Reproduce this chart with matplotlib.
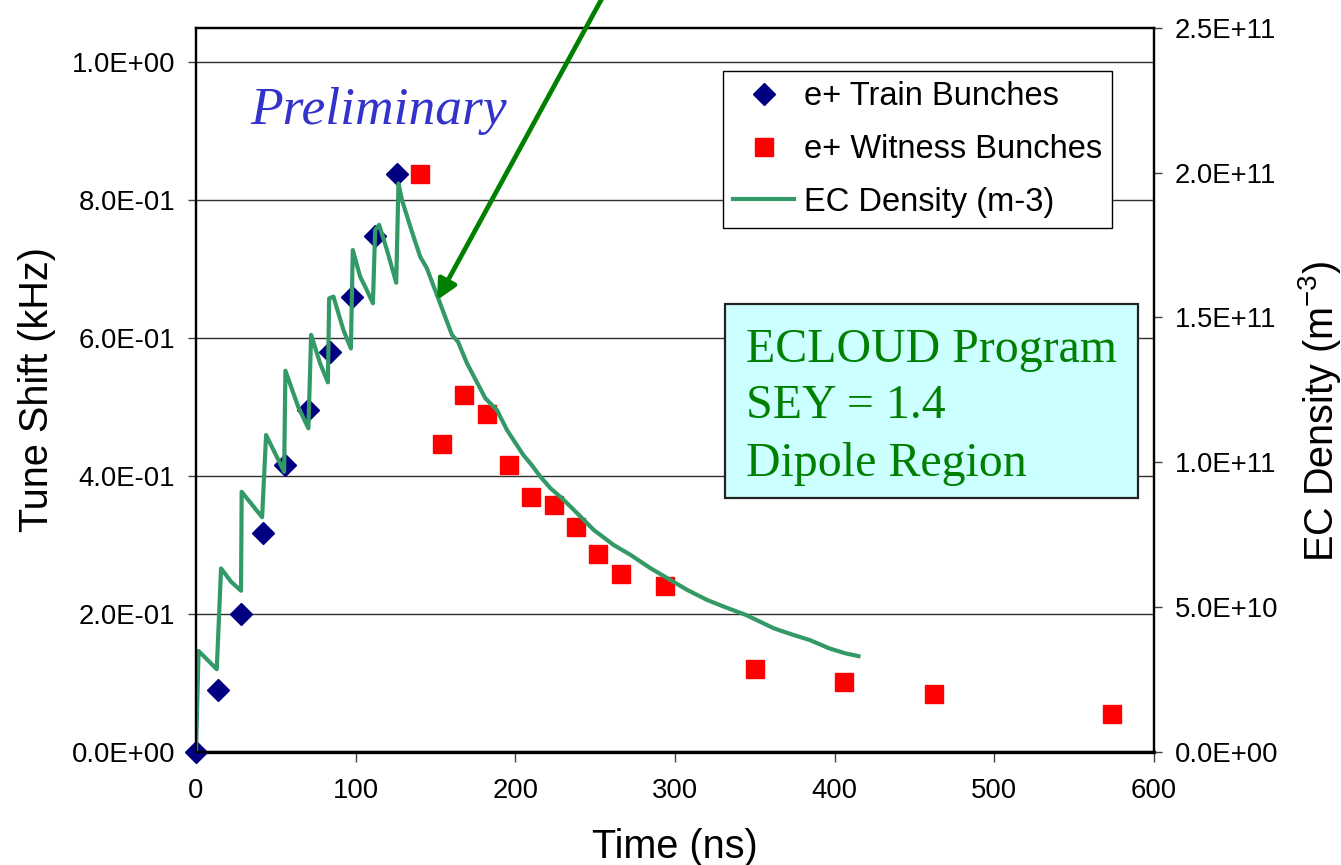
import matplotlib
matplotlib.use("Agg")
import matplotlib.pyplot as plt
from matplotlib.patches import Rectangle
from matplotlib.ticker import FuncFormatter, MultipleLocator

plt.rcParams['font.family'] = ['Liberation Sans', 'DejaVu Sans']

# measured tune shift, train bunches (kHz)
train_t = [0, 14, 28, 42, 56, 70, 84, 98, 112, 126]
train_shift = [0.0, 0.089, 0.200, 0.317, 0.415, 0.495, 0.579, 0.659, 0.747, 0.837]

# witness bunches behind the train
witness_t = [140, 154, 168, 182, 196, 210, 224, 238, 252, 266, 294, 350, 406, 462, 574]
witness_shift = [0.837, 0.446, 0.517, 0.489, 0.415, 0.369, 0.357, 0.326, 0.286,
                 0.258, 0.240, 0.120, 0.101, 0.083, 0.055]

# ECLOUD simulated electron cloud density (m^-3)
ec_t = [0, 1.6, 13.0, 15.7, 22.0, 28.2, 28.6, 41.4, 43.9, 55.2,
        56.0, 64.1, 70.4, 72.1, 77.7, 82.6, 83.4, 86.1, 92.3, 97.0,
        98.2, 102.8, 106.0, 110.8, 112.2, 114.7, 119.6, 125.4, 126.8, 129.0,
        134.2, 140.4, 144.6, 151.3, 160.3, 164.1, 169.7, 181.2, 188.5, 194.8,
        205.0, 210.3, 215.7, 222.0, 229.3, 238.7, 249.1, 261.6, 272.1, 284.6,
        297.2, 307.6, 320.2, 330.6, 344.6, 362.0, 374.3, 384.3, 396.6, 406.6,
        414.9]
ec_density = [0.0, 0.348, 0.285, 0.633, 0.587, 0.556, 0.898, 0.810, 1.094, 0.967,
              1.316, 1.190, 1.117, 1.440, 1.342, 1.276, 1.566, 1.572, 1.457, 1.393,
              1.733, 1.641, 1.606, 1.549, 1.802, 1.820, 1.733, 1.620, 1.963, 1.906,
              1.814, 1.710, 1.670, 1.572, 1.440, 1.416, 1.342, 1.221, 1.180, 1.111,
              1.025, 0.990, 0.950, 0.910, 0.875, 0.824, 0.766, 0.714, 0.680, 0.634,
              0.593, 0.559, 0.524, 0.501, 0.472, 0.426, 0.403, 0.386, 0.357, 0.340,
              0.330]
ec_density = [v * 1e11 for v in ec_density]

W, H = 1341, 865
fig = plt.figure(figsize=(W / 100, H / 100), dpi=100)
ax = fig.add_axes([196 / W, 1 - 751.7 / H, (1154 - 196) / W, (751.7 - 28) / H])
ax2 = ax.twinx()

ax.plot(train_t, train_shift, linestyle='none', marker='D', ms=11.5,
        color='#000080', label='e+ Train Bunches', clip_on=False, zorder=3)
ax.plot(witness_t, witness_shift, linestyle='none', marker='s', ms=13.5,
        color='#FF0000', label='e+ Witness Bunches', clip_on=False, zorder=3)
ax2.plot(ec_t, ec_density, color='#339966', lw=3, label='EC Density (m-3)',
         solid_joinstyle='round')

ax.set_xlim(0, 600)
ax.set_ylim(0, 1.0488)
ax2.set_ylim(0, 2.5e11)
ax.xaxis.set_major_locator(MultipleLocator(100))
ax.set_yticks([0, 0.2, 0.4, 0.6, 0.8, 1.0])
ax2.set_yticks([0, 0.5e11, 1.0e11, 1.5e11, 2.0e11, 2.5e11])
sci = FuncFormatter(lambda v, p: f"{v:.1E}")
ax.yaxis.set_major_formatter(sci)
ax2.yaxis.set_major_formatter(sci)

ax.grid(axis='y', color='#303030', lw=1.0)
ax.set_axisbelow(True)

for a in (ax, ax2):
    for s in a.spines.values():
        s.set_linewidth(1.6)
        s.set_color('black')
ax.spines['bottom'].set_linewidth(2.4)

ax.tick_params(axis='y', labelsize=19.8, length=6, width=1, pad=9, color='#404040')
ax.tick_params(axis='x', labelsize=19.8, length=7, width=1, pad=12, color='#404040')
ax2.tick_params(axis='y', labelsize=19.8, length=6, width=1, pad=9, color='#404040')

ax.set_xlabel('Time (ns)', fontsize=28.5)
ax.xaxis.set_label_coords(0.5, -0.105)
ax.set_ylabel('Tune Shift (kHz)', fontsize=28.5)
ax.yaxis.set_label_coords(-0.146, 0.5)
ax2.set_ylabel('EC Density (m$^{\\mathregular{-3}}$)', fontsize=28.5)
ax2.yaxis.set_label_coords(1.148, 0.47)

# legend combines both axes
h1, l1 = ax.get_legend_handles_labels()
h2, l2 = ax2.get_legend_handles_labels()
leg = ax2.legend(h1 + h2, l1 + l2, loc='upper left',
                 bbox_to_anchor=(723 / W, 1 - 71 / H), bbox_transform=fig.transFigure,
                 fontsize=23.5, frameon=True, fancybox=False, framealpha=1,
                 edgecolor='black', numpoints=1, handlelength=1.85,
                 handletextpad=0.3, borderpad=0.32, labelspacing=0.66,
                 borderaxespad=0)
leg.get_frame().set_linewidth(1.0)

fig.text(250 / W, 1 - 124 / H, 'Preliminary', family='Liberation Serif',
         style='italic', fontsize=38.5, color='#3333CC', va='baseline', ha='left')

# simulation parameters box
fig.add_artist(Rectangle((725 / W, 1 - 498 / H), (1138 - 725) / W, (498 - 304) / H,
                         transform=fig.transFigure, facecolor='#CCFFFF',
                         edgecolor='#222222', lw=1.6, zorder=4))
for txt, base in [('ECLOUD Program', 361.7), ('SEY = 1.4', 418.5), ('Dipole Region', 476.5)]:
    fig.text(746 / W, 1 - base / H, txt, family='Liberation Serif', fontsize=34.5,
             color='#008000', va='baseline', ha='left', zorder=5)

ax2.annotate('', xy=(151.0, 1.56e11), xytext=(257.0, 2.63e11),
             arrowprops=dict(arrowstyle='-|>', color='#008000', lw=3.4,
                             mutation_scale=30, shrinkA=0, shrinkB=0),
             annotation_clip=False)

fig.savefig('out.png', dpi=100)
